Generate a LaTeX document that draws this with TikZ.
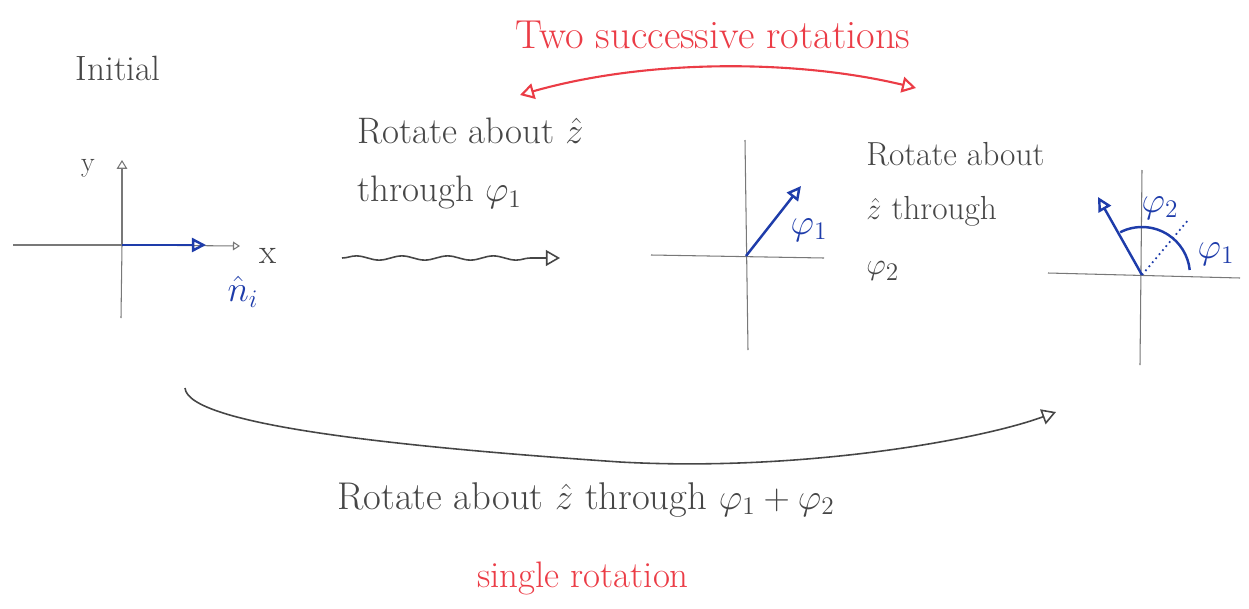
\documentclass[tikz,border=0pt]{standalone}
\usepackage{amsmath,amssymb}
\usepackage{tikz}
\usetikzlibrary{arrows.meta, positioning, decorations.pathmorphing}
\definecolor{pencil}{RGB}{70,70,70}
\definecolor{axisgray}{RGB}{120,120,120}
\definecolor{penblue}{RGB}{30,60,170}
\definecolor{penred}{RGB}{235,60,70}

\begin{document}
\begin{tikzpicture}[x=0.02cm, y=-0.02cm,
    hand/.style={font=\fontsize{20}{32}\selectfont, text=pencil, inner sep=0pt},
    axis/.style={axisgray, line width=0.6pt},
    vec/.style={penblue, line width=1.4pt, -{Triangle[open, length=8pt, width=8pt]}},
    tip/.style={-{Triangle[open, length=8pt, width=9pt]}}]
    \useasboundingbox (0,0) rectangle (1249,609);

    % title and labels
    \node[hand, text=penred, font=\fontsize{23}{28}\selectfont] (title) at (713,35) {Two successive rotations};
    \node[hand] (initial) at (118,68) {Initial};
    \node[hand, font=\fontsize{21}{33}\selectfont, align=left, anchor=north west] (step1) at (357,118) {Rotate about $\hat{z}$\\through $\varphi_1$};
    \node[hand, font=\fontsize{19}{31}\selectfont, align=left, anchor=north west] (step2) at (866,142) {Rotate about\\$\hat{z}$ through\\$\varphi_2$};
    \node[hand, font=\fontsize{22}{28}\selectfont] (single) at (586,500) {Rotate about $\hat{z}$ through $\varphi_1+\varphi_2$};
    \node[hand, text=penred, font=\fontsize{21}{28}\selectfont] (singlered) at (583,578) {single rotation};

    % panel 1: initial
    \coordinate (o1) at (122,245);
    \draw[axis] (13,245) -- (o1);
    \draw[axis, -{Triangle[open, length=4pt, width=5pt]}] (o1) -- (240,246) coordinate (x1);
    \draw[axis] (o1) -- (121,318);
    \draw[axis, -{Triangle[open, length=5pt, width=6pt]}] (o1) -- (122,160) coordinate (y1);
    \node[hand, font=\fontsize{16}{18}\selectfont] (ylab) at (88,168) {y};
    \node[hand] (xlab) at (268,256) {x};
    \coordinate (n1) at (206,245);
    \draw[vec] (o1) -- (n1);
    \node[hand, text=penblue] (nhat) at (243,292) {$\hat{n}_i$};

    % panel 2: after first rotation
    \coordinate (o2) at (746,256);
    \draw[axis] (651,255) -- (824,258);
    \draw[axis] (745,140) -- (748,350);
    \coordinate (n2) at (801,186);
    \draw[vec] (o2) -- (n2);
    \node[hand, text=penblue] (phi1b) at (809,230) {$\varphi_1$};

    % panel 3: after second rotation
    \coordinate (o3) at (1142,275);
    \draw[axis] (1048,273) -- (1240,278);
    \draw[axis] (1142,170) -- (1140,365);
    \coordinate (n3) at (1098,197);
    \draw[vec] (o3) -- (n3);
    \draw[penblue, line width=1.4pt] (o3) ++(117:0.96cm) arc[start angle=117, end angle=6, radius=0.96cm];
    \draw[penblue, dotted, line width=1pt] (o3) -- ++(50:1.45cm);
    \node[hand, text=penblue] (phi2c) at (1160,208) {$\varphi_2$};
    \node[hand, text=penblue] (phi1c) at (1216,254) {$\varphi_1$};

    % connectors
    \coordinate (w1) at (342,258);
    \coordinate (w2) at (560,258);
    \draw[pencil, line width=0.9pt, tip, decorate,
        decoration={snake, amplitude=1.2pt, segment length=26pt, post length=10pt}] (w1) -- (w2);

    \coordinate (r1) at (520,95);
    \coordinate (r2) at (916,88);
    \draw[penred, line width=1.2pt, {Triangle[open, length=8pt, width=9pt]}-{Triangle[open, length=8pt, width=9pt]}]
        (r1) .. controls (650,58) and (800,60) .. (r2);

    \coordinate (b1) at (185,388);
    \coordinate (b2) at (1056,412);
    \draw[pencil, line width=0.9pt, tip]
        (b1) .. controls (188,425) and (400,447) .. (620,462) .. controls (800,472) and (980,440) .. (b2);
\end{tikzpicture}
\end{document}
